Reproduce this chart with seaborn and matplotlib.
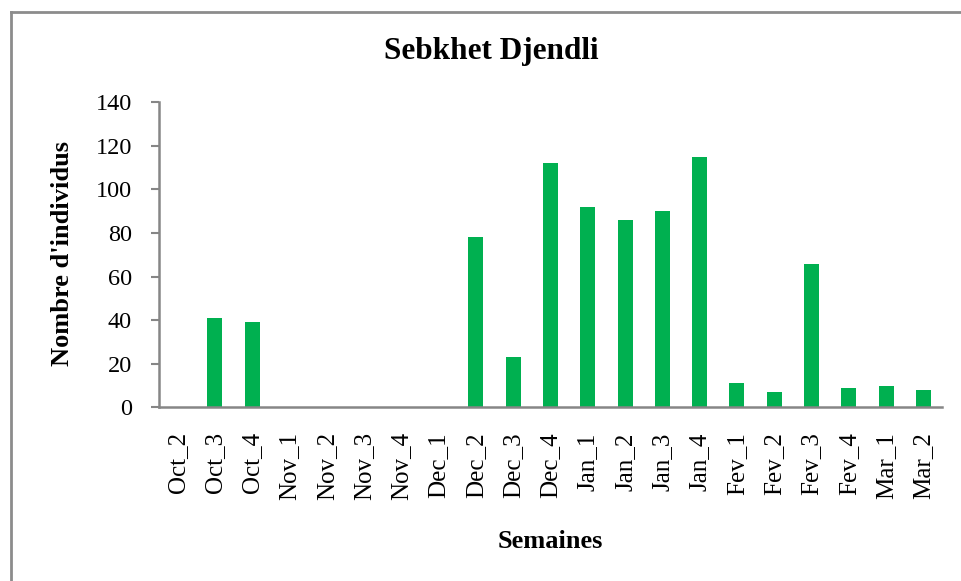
import matplotlib
matplotlib.use("Agg")
import matplotlib.pyplot as plt
from matplotlib.lines import Line2D
import seaborn as sns
import pandas as pd

# Weekly counts of individuals observed at Sebkhet Djendli
weeks = ["Oct_2", "Oct_3", "Oct_4", "Nov_1", "Nov_2", "Nov_3", "Nov_4",
         "Dec_1", "Dec_2", "Dec_3", "Dec_4", "Jan_1", "Jan_2", "Jan_3",
         "Jan_4", "Fev_1", "Fev_2", "Fev_3", "Fev_4", "Mar_1", "Mar_2"]
counts = [0, 41, 39, 0, 0, 0, 0,
          0, 78, 23, 112, 92, 86, 90,
          115, 11, 7, 66, 9, 10, 8]
y_ticks = [0, 20, 40, 60, 80, 100, 120, 140]

title = "Sebkhet Djendli"
x_label = "Semaines"
y_label = "Nombre d'individus"

sns.set_style("white")
plt.rcParams["font.family"] = ["Liberation Serif", "DejaVu Serif"]
plt.rcParams["text.color"] = "black"
plt.rcParams["xtick.color"] = "black"
plt.rcParams["ytick.color"] = "black"

W, H = 962, 581
fig = plt.figure(figsize=(W / 100, H / 100), dpi=100)
ax = fig.add_axes([159 / W, 1 - 407.3 / H, (942 - 159) / W, (407.3 - 102.3) / H])

df = pd.DataFrame({"week": weeks, "count": counts})
sns.barplot(data=df, x="week", y="count", color="#00B050", width=0.4,
            saturation=1, edgecolor="none", ax=ax, order=weeks)

axis_grey = "#868686"
ax.set_ylim(0, 140)
ax.set_xlim(-0.5, len(weeks) - 0.5)
ax.set_yticks(y_ticks)
ax.set_yticklabels([str(v) for v in y_ticks])
ax.tick_params(axis="y", which="both", left=True, length=5.5, width=1.5,
               color=axis_grey, labelcolor="black", direction="out",
               labelsize=17.5, pad=14)
ax.tick_params(axis="x", bottom=False, labelsize=18, pad=14.5,
               labelcolor="black", labelrotation=90)
for lbl in ax.get_xticklabels():
    lbl.set_verticalalignment("top")
    lbl.set_horizontalalignment("center")

for side in ("top", "right"):
    ax.spines[side].set_visible(False)
for side in ("left", "bottom"):
    ax.spines[side].set_color(axis_grey)
    ax.spines[side].set_linewidth(1.8)

ax.set_xlabel("")
ax.set_ylabel("")
fig.text(491 / W, 1 - 52 / H, title, ha="center", va="center",
         fontsize=22.5, fontweight="bold", color="black")
fig.text(550 / W, 1 - 541 / H, x_label, ha="center", va="center",
         fontsize=19, fontweight="bold", color="black")
fig.text(63 / W, 1 - 254 / H, y_label, ha="center", va="center",
         fontsize=19, fontweight="bold", rotation=90, color="black")

# Chart frame running off the right and bottom edges
frame_x = 10.7 / W
frame_y = 1 - 12.3 / H
fig.add_artist(Line2D([frame_x, frame_x], [0, frame_y], transform=fig.transFigure,
                      color="#8c8c8c", linewidth=2.0, solid_capstyle="projecting"))
fig.add_artist(Line2D([frame_x, 1.0], [frame_y, frame_y], transform=fig.transFigure,
                      color="#8c8c8c", linewidth=2.0, solid_capstyle="projecting"))

fig.savefig("out.png", dpi=100)
